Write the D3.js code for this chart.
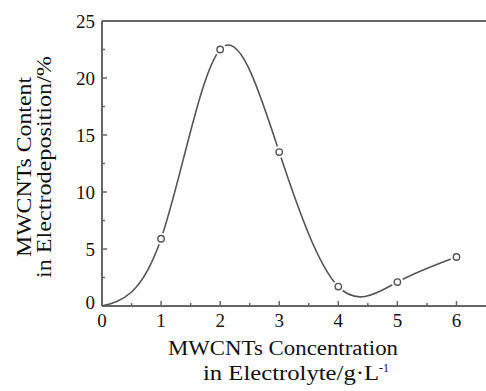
<!DOCTYPE html>
<html>
<head>
<meta charset="utf-8">
<script src="https://cdn.jsdelivr.net/npm/d3@7"></script>
</head>
<body style="margin:0">
<svg id="chart" width="486" height="391"></svg>
<script>
// Data
const concentration = [1, 2, 3, 4, 5, 6];            // g/L
const content = [5.9, 22.5, 13.5, 1.7, 2.1, 4.3];    // %
const curveStartX = [0];                            // fitted curve starts at origin
const curveStartY = [0];
const xTicks = [0, 1, 2, 3, 4, 5, 6];
const yTicks = [0, 5, 10, 15, 20, 25];
const xMinor = [0.5, 1.5, 2.5, 3.5, 4.5, 5.5];
const yMinor = [2.5, 7.5, 12.5, 17.5, 22.5];

const FONT = '"Liberation Serif", "Times New Roman", serif';
const svg = d3.select("#chart");
const x = d3.scaleLinear().domain([0, 6.5]).range([102, 486]);
const y = d3.scaleLinear().domain([0, 25]).range([306, 21]);
const axisColor = "#666";
const lineColor = "#555";
const textColor = "#111";

// Frame: left, bottom, top
svg.append("line").attr("x1", x(0)).attr("x2", x(6.5)).attr("y1", y(0)).attr("y2", y(0))
  .attr("stroke", axisColor).attr("stroke-width", 2);
svg.append("line").attr("x1", x(0)).attr("x2", x(6.5)).attr("y1", y(25)).attr("y2", y(25))
  .attr("stroke", axisColor).attr("stroke-width", 2);
svg.append("line").attr("x1", x(0)).attr("x2", x(0)).attr("y1", y(0)).attr("y2", y(25))
  .attr("stroke", axisColor).attr("stroke-width", 2);

// X ticks (inward)
svg.selectAll(".xt").data(xTicks.slice(1)).enter().append("line")
  .attr("x1", d => x(d)).attr("x2", d => x(d)).attr("y1", y(0)).attr("y2", y(0) - 5)
  .attr("stroke", axisColor).attr("stroke-width", 1.5);
svg.selectAll(".xm").data(xMinor).enter().append("line")
  .attr("x1", d => x(d)).attr("x2", d => x(d)).attr("y1", y(0)).attr("y2", y(0) - 3)
  .attr("stroke", axisColor).attr("stroke-width", 1.5);
// Y ticks (inward)
svg.selectAll(".yt").data(yTicks.slice(1, -1)).enter().append("line")
  .attr("x1", x(0)).attr("x2", x(0) + 5).attr("y1", d => y(d)).attr("y2", d => y(d))
  .attr("stroke", axisColor).attr("stroke-width", 1.5);
svg.selectAll(".ym").data(yMinor).enter().append("line")
  .attr("x1", x(0)).attr("x2", x(0) + 3).attr("y1", d => y(d)).attr("y2", d => y(d))
  .attr("stroke", axisColor).attr("stroke-width", 1.5);

// Tick labels
svg.selectAll(".xl").data(xTicks).enter().append("text")
  .attr("x", d => x(d)).attr("y", 327)
  .attr("text-anchor", "middle").attr("font-size", 19).attr("fill", textColor)
  .style("font-family", FONT)
  .text(d => String(d));
svg.selectAll(".yl").data(yTicks).enter().append("text")
  .attr("x", 95).attr("y", d => y(d) + 7 - (d === 0 ? 4 : 0))
  .attr("text-anchor", "end").attr("font-size", 19).attr("fill", textColor)
  .style("font-family", FONT)
  .text(d => String(d));

// Fitted curve (natural spline through origin and the measured points)
const curvePts = curveStartX.map((d, i) => [d, curveStartY[i]])
  .concat(concentration.map((d, i) => [d, content[i]]));
const line = d3.line().x(d => x(d[0])).y(d => y(d[1])).curve(d3.curveNatural);
svg.append("path").attr("d", line(curvePts))
  .attr("fill", "none").attr("stroke", lineColor).attr("stroke-width", 1.6);

// Markers with white gap
const pts = concentration.map((d, i) => [d, content[i]]);
svg.selectAll(".gap").data(pts).enter().append("circle")
  .attr("cx", d => x(d[0])).attr("cy", d => y(d[1])).attr("r", 6).attr("fill", "#fff");
svg.selectAll(".mk").data(pts).enter().append("circle")
  .attr("cx", d => x(d[0])).attr("cy", d => y(d[1])).attr("r", 3.2)
  .attr("fill", "#fff").attr("stroke", lineColor).attr("stroke-width", 1.4);

// Axis titles
svg.append("text").attr("x", 168).attr("y", 355).attr("font-size", 20).attr("fill", textColor)
  .style("font-family", FONT)
  .attr("textLength", 230).attr("lengthAdjust", "spacingAndGlyphs")
  .text("MWCNTs Concentration");
const t2 = svg.append("text").attr("x", 203).attr("y", 380).attr("font-size", 20).attr("fill", textColor)
  .style("font-family", FONT);
t2.append("tspan").attr("textLength", 176).attr("lengthAdjust", "spacingAndGlyphs")
  .text("in Electrolyte/g·L");
t2.append("tspan").attr("dy", -8).attr("font-size", 12).text("-1");

const yt = svg.append("g").attr("transform", "translate(0,167) rotate(-90)");
yt.append("text").attr("x", 0).attr("y", 31).attr("text-anchor", "middle").attr("font-size", 20)
  .attr("fill", textColor).style("font-family", FONT)
  .attr("textLength", 180).attr("lengthAdjust", "spacingAndGlyphs")
  .text("MWCNTs Content");
yt.append("text").attr("x", 0).attr("y", 51).attr("text-anchor", "middle").attr("font-size", 20)
  .attr("fill", textColor).style("font-family", FONT)
  .attr("textLength", 222).attr("lengthAdjust", "spacingAndGlyphs")
  .text("in Electrodeposition/%");
</script>
</body>
</html>
